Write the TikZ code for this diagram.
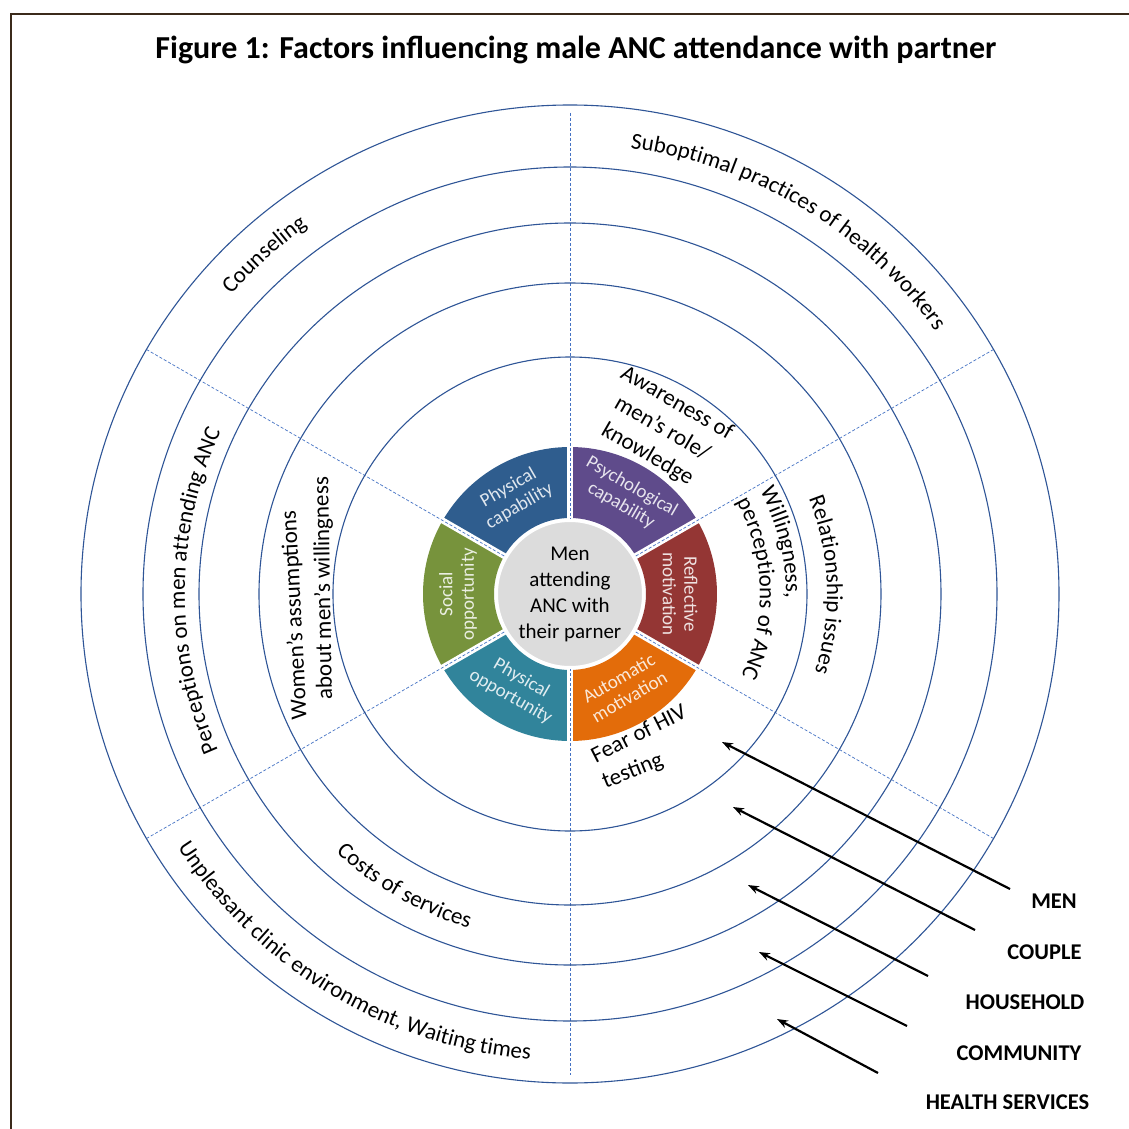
\documentclass[tikz,border=0pt]{standalone}
\usepackage{fontspec}
\setmainfont{Carlito}
\usetikzlibrary{decorations.text, arrows.meta}

\definecolor{ringblue}{HTML}{2F5597}
\definecolor{dashblue}{HTML}{4472C4}
\definecolor{framebrown}{HTML}{3B2A1B}
\definecolor{capblue}{HTML}{2F5D8E}
\definecolor{psypurple}{HTML}{5F4B8B}
\definecolor{reflred}{HTML}{943634}
\definecolor{autoorange}{HTML}{E36C0A}
\definecolor{oppteal}{HTML}{31849B}
\definecolor{socgreen}{HTML}{77933C}
\definecolor{hubgray}{HTML}{DCDCDC}

\newcommand\ringfont{\fontsize{23}{29}\selectfont}

\begin{document}
\begin{tikzpicture}[x=1pt, y=1pt,
  ring/.style={draw=ringblue, line width=1.1pt},
  divider/.style={draw=dashblue, line width=0.7pt, dash pattern=on 3pt off 2pt},
  gap/.style={draw=white, line width=6pt},
  seglabel/.style={text=white, text opacity=0.85, font=\fontsize{19}{21.5}\selectfont, align=center, inner sep=0pt},
  ringlabel/.style={font=\ringfont, align=center, inner sep=0pt},
  levellabel/.style={font=\bfseries\fontsize{22.5}{27}\selectfont, inner sep=0pt},
  pointer/.style={line width=2.2pt, -{Stealth[length=11pt, width=8pt]}},
  arctext/.style={decorate, decoration={text along path, text={|\ringfont|#1}, text align=center}},
  arctextleft/.style={decorate, decoration={text along path, text={|\ringfont|#1}, text align=left}}
]
% page area
\useasboundingbox (-570,-534) rectangle (559,594);
\fill[white] (-570,-534) rectangle (559,594);

% frame
\draw[framebrown, line width=2.4pt] (-559,-540) -- (-559,580) -- (565,580);

% title
\node[font=\bfseries\fontsize{32}{36}\selectfont, anchor=base, inner sep=0pt] (title) at (6,535.5)
  {Figure 1: Factors influencing male ANC attendance with partner};

% COM-B segments
\foreach \a/\b/\col in {90/150/capblue, 30/90/psypurple, -30/30/reflred,
                        -90/-30/autoorange, -150/-90/oppteal, 150/210/socgreen}
  \fill[\col] (\a:76) arc[start angle=\a, end angle=\b, radius=76]
    -- (\b:147) arc[start angle=\b, end angle=\a, radius=147] -- cycle;
\foreach \a in {30,90,...,330}
  \draw[gap] (\a:68) -- (\a:151);

% sector dividers
\draw[divider] (90:481) -- (-90:481);
\draw[divider] (150:489) -- (-30:489);
\draw[divider] (30:489) -- (210:489);

% level rings
\foreach \r in {237,311,371,427,489}
  \draw[ring] (0,0) circle[radius=\r];

% hub
\node[circle, fill=hubgray, draw=white, line width=3pt, minimum size=147pt, inner sep=0pt,
      align=center, font=\fontsize{21}{26}\selectfont] (hub) at (0,0)
  {Men\\attending\\ANC with\\their parner};

% segment labels
\node[seglabel, rotate=30]  (physcap) at (120:112) {Physical\\capability};
\node[seglabel, rotate=-30] (psycap)  at (60:113)  {Psychological\\capability};
\node[seglabel, rotate=-90] (reflmot) at (0:110)   {Reflective\\motivation};
\node[seglabel, rotate=30]  (automot) at (-60:108) {Automatic\\motivation};
\node[seglabel, rotate=-30] (physopp) at (-120:108){Physical\\opportunity};
\node[seglabel, rotate=90]  (socopp)  at (180:112) {Social\\opportunity};

% factor labels, men level
\node[ringlabel, rotate=-30, font=\fontsize{23}{29.5}\selectfont] (aware) at (92,165)
  {Awareness of\\men’s role/\\knowledge};
\node[ringlabel, rotate=27, anchor=base] (fear1) at (72,-146) {Fear of HIV};
\node[ringlabel, rotate=22, anchor=base] (fear2) at (65,-183) {testing};

% couple level
\node[ringlabel, rotate=93] (women1) at (-275,-21) {Women’s assumptions};
\node[ringlabel, rotate=91] (women2) at (-246,6) {about men’s willingness};
\path[arctextleft={Willingness,}] (28.5:216) arc[start angle=28.5, end angle=-70, radius=216];
\path[arctextleft={perceptions of ANC}] (29:190) arc[start angle=29, end angle=-70, radius=190];
\path[arctext={Relationship issues}] (62:257) arc[start angle=62, end angle=-58, radius=257];

% household level
\path[arctext={Costs of services}] (190.5:349) arc[start angle=190.5, end angle=290.5, radius=349];

% community level
\path[arctext={Perceptions on men attending ANC}] (239.5:385) arc[start angle=239.5, end angle=119.5, radius=385];

% health services level
\path[arctext={Suboptimal practices of health workers}] (109:450) arc[start angle=109, end angle=9, radius=450];
\path[arctext={Counseling}] (172:452) arc[start angle=172, end angle=92, radius=452];
\path[arctext={Unpleasant clinic environment, Waiting times}] (169:467) arc[start angle=169, end angle=309, radius=467];

% level legend
\node[levellabel] (lmen)  at (484,-307)   {MEN};
\node[levellabel] (lcoup) at (474.5,-358) {COUPLE};
\node[levellabel] (lhh)   at (455,-408)   {HOUSEHOLD};
\node[levellabel] (lcom)  at (449,-459)   {COMMUNITY};
\node[levellabel] (lhs)   at (437.5,-508) {HEALTH SERVICES};

\coordinate (menTail) at (440,-295);  \coordinate (menTip) at (152,-148);
\coordinate (coupTail) at (405,-336); \coordinate (coupTip) at (163,-213);
\coordinate (hhTail) at (358,-382);   \coordinate (hhTip) at (178,-291);
\coordinate (comTail) at (337,-432);  \coordinate (comTip) at (189,-358);
\coordinate (hsTail) at (308,-479);   \coordinate (hsTip) at (207,-425);
\draw[pointer] (menTail) -- (menTip);
\draw[pointer] (coupTail) -- (coupTip);
\draw[pointer] (hhTail) -- (hhTip);
\draw[pointer] (comTail) -- (comTip);
\draw[pointer] (hsTail) -- (hsTip);
\end{tikzpicture}
\end{document}
